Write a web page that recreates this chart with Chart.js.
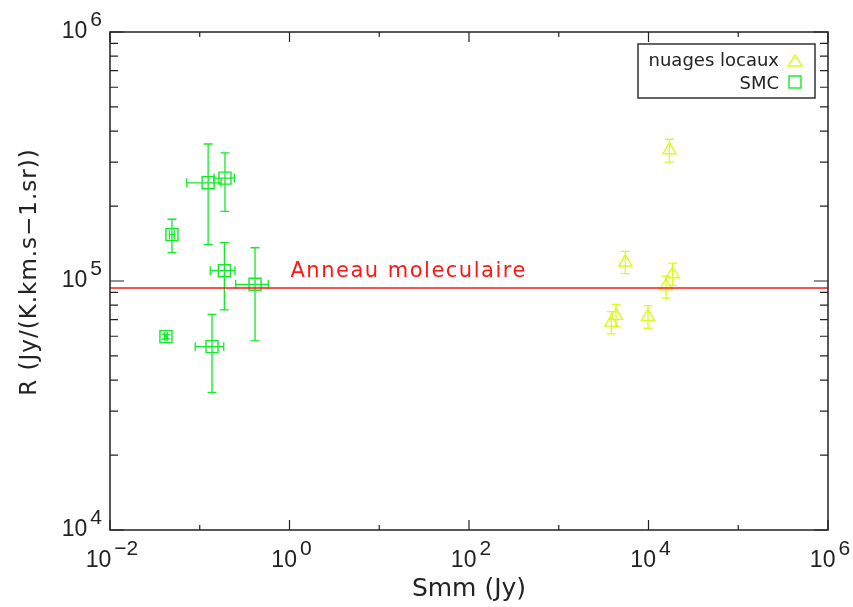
<!DOCTYPE html>
<html>
<head>
<meta charset="utf-8">
<script src="https://cdn.jsdelivr.net/npm/chart.js@4.4.1/dist/chart.umd.min.js"></script>
<style>
  body { margin: 0; background: #fff; }
  #wrap { width: 853px; height: 607px; }
</style>
</head>
<body>
<div id="wrap"><canvas id="chart" width="853" height="607"></canvas></div>
<script>
// SMC points (Smm in Jy, R in Jy/(K.km.s-1.sr)) with error ranges
const smcX   = [0.124, 0.191, 0.049, 0.188, 0.413, 0.042, 0.137];
const smcXLo = [0.0716, 0.144, 0.046, 0.131, 0.251, 0.0405, 0.089];
const smcXHi = [0.173, 0.243, 0.052, 0.247, 0.58, 0.0435, 0.185];
const smcY   = [2.48e5, 2.59e5, 1.535e5, 1.10e5, 9.7e4, 5.98e4, 5.45e4];
const smcYLo = [1.40e5, 1.905e5, 1.30e5, 7.65e4, 5.75e4, 5.85e4, 3.57e4];
const smcYHi = [3.55e5, 3.27e5, 1.77e5, 1.425e5, 1.36e5, 6.1e4, 7.35e4];

// local clouds (nuages locaux)
const nlX   = [1.71e4, 5.52e3, 1.86e4, 1.57e4, 4.35e3, 3.85e3, 9.87e3];
const nlY   = [3.36e5, 1.19e5, 1.067e5, 9.55e4, 7.26e4, 6.82e4, 7.19e4];
const nlYLo = [3.0e5, 1.07e5, 9.6e4, 8.53e4, 6.56e4, 6.13e4, 6.46e4];
const nlYHi = [3.71e5, 1.315e5, 1.18e5, 1.047e5, 8.06e4, 7.53e4, 7.96e4];

// molecular ring reference level
const ringLevel = 9.37e4;
const ringLabel = 'Anneau moleculaire';

// axes
const xMin = 1e-2, xMax = 1e6, yMin = 1e4, yMax = 1e6;
const xTickExp = [-2, -1, 0, 1, 2, 3, 4, 5, 6];
const xLabelExp = [-2, 0, 2, 4, 6];
const yLabelExp = [4, 5, 6];
const xTitle = 'Smm (Jy)';
const yTitle = 'R (Jy/(K.km.s\u22121.sr))';
const legendNames = ['nuages locaux', 'SMC'];

const green = '#14ea2a';
const yellow = '#dcfa1e';
const red = '#ff1616';
const ink = '#222';
const textFont = '"DejaVu Sans ExtraLight", "DejaVu Sans", sans-serif';
const numFont = '"Liberation Sans", Arial, sans-serif';

function pts(xs, ys) {
  return xs.map((x, i) => ({ x: x, y: ys[i] }));
}

function drawPow(ctx, exp, x, y, align) {
  const base = '10';
  const sup = exp < 0 ? '\u2212' + Math.abs(exp) : String(exp);
  ctx.font = '23px ' + numFont;
  const w1 = ctx.measureText(base).width;
  ctx.font = '21px ' + numFont;
  const w2 = ctx.measureText(sup).width;
  const total = w1 + 3 + w2;
  let start = align === 'right' ? x - total : x - total / 2;
  ctx.textAlign = 'left';
  ctx.textBaseline = 'alphabetic';
  ctx.font = '23px ' + numFont;
  ctx.fillText(base, start, y);
  ctx.font = '21px ' + numFont;
  ctx.fillText(sup, start + w1 + 3, y - 12);
}

// error bars, frame, ticks, labels, annotation and legend
const decor = {
  id: 'decor',
  beforeDatasetsDraw(chart) {
    const { ctx, scales: { x, y } } = chart;
    const cap = 4.5;
    ctx.save();
    ctx.lineWidth = 1.3;
    const bars = (xs, ys, xlo, xhi, ylo, yhi, color) => {
      ctx.strokeStyle = color;
      xs.forEach((v, i) => {
        const px = x.getPixelForValue(v), py = y.getPixelForValue(ys[i]);
        const t = y.getPixelForValue(yhi[i]), b = y.getPixelForValue(ylo[i]);
        ctx.beginPath();
        ctx.moveTo(px, t); ctx.lineTo(px, b);
        ctx.moveTo(px - cap, t); ctx.lineTo(px + cap, t);
        ctx.moveTo(px - cap, b); ctx.lineTo(px + cap, b);
        if (xlo) {
          const l = x.getPixelForValue(xlo[i]), r = x.getPixelForValue(xhi[i]);
          ctx.moveTo(l, py); ctx.lineTo(r, py);
          ctx.moveTo(l, py - cap); ctx.lineTo(l, py + cap);
          ctx.moveTo(r, py - cap); ctx.lineTo(r, py + cap);
        }
        ctx.stroke();
      });
    };
    bars(smcX, smcY, smcXLo, smcXHi, smcYLo, smcYHi, green);
    bars(nlX, nlY, null, null, nlYLo, nlYHi, yellow);
    ctx.restore();
  },
  afterDraw(chart) {
    const { ctx, chartArea: a, scales: { x, y } } = chart;
    ctx.save();
    ctx.strokeStyle = ink;
    ctx.fillStyle = ink;
    ctx.lineWidth = 1.5;
    ctx.strokeRect(a.left, a.top, a.right - a.left, a.bottom - a.top);

    // x ticks (bottom and top, inward)
    ctx.lineWidth = 1.2;
    ctx.beginPath();
    xTickExp.forEach(e => {
      const px = x.getPixelForValue(Math.pow(10, e));
      const len = xLabelExp.includes(e) ? 10 : 5;
      ctx.moveTo(px, a.bottom); ctx.lineTo(px, a.bottom - len);
      ctx.moveTo(px, a.top); ctx.lineTo(px, a.top + len);
    });
    // y ticks (left and right, inward), minor at 2..9
    for (let e = 4; e <= 6; e++) {
      for (let m = 1; m <= 9; m++) {
        const v = m * Math.pow(10, e);
        if (v > yMax) break;
        const py = y.getPixelForValue(v);
        const len = m === 1 ? 14 : 8;
        ctx.moveTo(a.left, py); ctx.lineTo(a.left + len, py);
        ctx.moveTo(a.right, py); ctx.lineTo(a.right - len, py);
      }
    }
    ctx.stroke();

    // tick labels
    xLabelExp.forEach(e => drawPow(ctx, e, x.getPixelForValue(Math.pow(10, e)) + 2, a.bottom + 37, 'center'));
    yLabelExp.forEach(e => drawPow(ctx, e, a.left - 8, y.getPixelForValue(Math.pow(10, e)) + 6, 'right'));

    // axis titles
    ctx.font = '25px ' + textFont;
    ctx.textAlign = 'center';
    ctx.textBaseline = 'alphabetic';
    ctx.fillText(xTitle, (a.left + a.right) / 2, 596);
    ctx.save();
    ctx.translate(36, 272);
    ctx.rotate(-Math.PI / 2);
    ctx.font = '23px ' + textFont;
    ctx.letterSpacing = '1px';
    ctx.fillText(yTitle, 0, 0);
    ctx.letterSpacing = '0px';
    ctx.restore();

    // molecular ring label
    ctx.fillStyle = red;
    ctx.font = '21px ' + textFont;
    ctx.letterSpacing = '1.5px';
    ctx.textAlign = 'left';
    ctx.fillText(ringLabel, x.getPixelForValue(1) + 1, y.getPixelForValue(ringLevel) - 11);
    ctx.letterSpacing = '0px';

    // legend
    ctx.strokeStyle = '#333';
    ctx.lineWidth = 1.5;
    ctx.strokeRect(638, 44, 177, 54);
    ctx.fillStyle = ink;
    ctx.font = '18px ' + textFont;
    ctx.textAlign = 'right';
    ctx.fillText(legendNames[0], 779, 66);
    ctx.fillText(legendNames[1], 779, 89);
    ctx.lineWidth = 1.4;
    ctx.strokeStyle = yellow;
    ctx.beginPath();
    ctx.moveTo(795, 55); ctx.lineTo(802, 66); ctx.lineTo(788, 66); ctx.closePath();
    ctx.stroke();
    ctx.strokeStyle = green;
    ctx.strokeRect(789, 76, 12, 12);
    ctx.restore();
  }
};

new Chart(document.getElementById('chart'), {
  data: {
    datasets: [
      {
        type: 'line',
        label: 'ring',
        data: [{ x: xMin, y: ringLevel }, { x: xMax, y: ringLevel }],
        borderColor: red,
        borderWidth: 1.5,
        pointRadius: 0
      },
      {
        type: 'scatter',
        label: legendNames[1],
        data: pts(smcX, smcY),
        pointStyle: 'rect',
        pointRadius: 8.5,
        borderColor: green,
        backgroundColor: 'rgba(0,0,0,0)',
        borderWidth: 1.4
      },
      {
        type: 'scatter',
        label: legendNames[0],
        data: pts(nlX, nlY),
        pointStyle: 'triangle',
        pointRadius: 7.5,
        borderColor: yellow,
        backgroundColor: 'rgba(0,0,0,0)',
        borderWidth: 1.4
      }
    ]
  },
  options: {
    responsive: false,
    animation: false,
    layout: { padding: { left: 110, right: 25, top: 32, bottom: 77 } },
    plugins: { legend: { display: false }, tooltip: { enabled: false } },
    scales: {
      x: { type: 'logarithmic', min: xMin, max: xMax, display: false },
      y: { type: 'logarithmic', min: yMin, max: yMax, display: false }
    }
  },
  plugins: [decor]
});
</script>
</body>
</html>
